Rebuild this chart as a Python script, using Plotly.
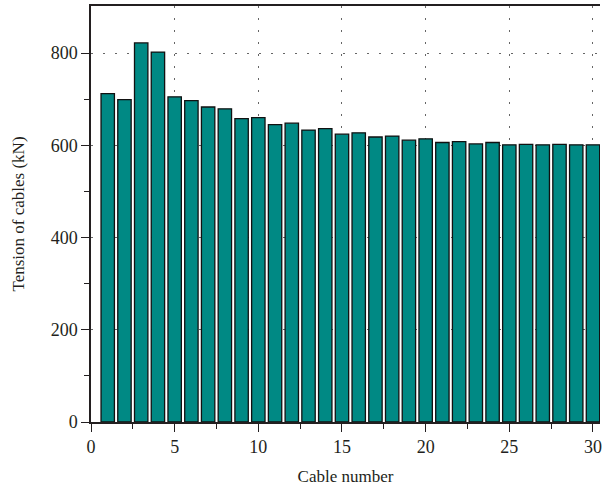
import plotly.graph_objects as go

cables = list(range(1, 31))
tension = [712, 699, 822, 802, 705, 697, 683, 679, 658, 660,
           645, 648, 633, 636, 624, 627, 618, 620, 611, 614,
           606, 608, 603, 606, 601, 602, 601, 602, 601, 601]

x_ticks = [0, 5, 10, 15, 20, 25, 30]
y_ticks = [0, 200, 400, 600, 800]

font_fam = "Liberation Serif, Times New Roman, serif"
ink = "#231f20"

fig = go.Figure()
fig.add_trace(go.Bar(
    x=cables, y=tension, width=0.8,
    marker=dict(color="#008984", line=dict(color="#111111", width=1.3)),
))

xr = [0, 30.42]
fig.update_layout(
    width=602, height=491,
    margin=dict(l=91, r=0, t=6, b=69),
    paper_bgcolor="white", plot_bgcolor="white",
    showlegend=False,
    font=dict(family=font_fam, size=17, color=ink),
    xaxis=dict(
        range=xr, tickvals=x_ticks, ticks="outside", ticklen=8, tickwidth=1.3,
        tickcolor=ink, showline=True, linecolor=ink, linewidth=1.5, mirror=True,
        showgrid=True, gridcolor="#666666", griddash="2px,10px", gridwidth=1,
        zeroline=False, ticklabeloverflow="allow",
        minor=dict(tickvals=[2.5, 7.5, 12.5, 17.5, 22.5, 27.5], ticks="outside",
                   ticklen=5, tickcolor=ink, tickwidth=1.2, showgrid=False),
        title=dict(text="Cable number", font=dict(size=17), standoff=14),
        tickfont=dict(size=18),
    ),
    yaxis=dict(
        range=[0, 902], tickvals=y_ticks, ticks="outside", ticklen=8, tickwidth=1.3,
        tickcolor=ink, showline=True, linecolor=ink, linewidth=1.5, mirror=False,
        showgrid=True, gridcolor="#666666", griddash="2px,10px", gridwidth=1,
        zeroline=False,
        minor=dict(tickvals=[100, 300, 500, 700], ticks="outside",
                   ticklen=5, tickcolor=ink, tickwidth=1.2, showgrid=False),
        title=dict(text="Tension of cables (kN)", font=dict(size=17), standoff=22),
        tickfont=dict(size=18),
    ),
    xaxis2=dict(
        range=xr, overlaying="x", side="top", anchor="y",
        tickvals=x_ticks, ticks="inside", ticklen=8, tickwidth=1.3, tickcolor=ink,
        showticklabels=False, showgrid=False, zeroline=False, showline=False,
        minor=dict(tickvals=[2.5, 7.5, 12.5, 17.5, 22.5, 27.5], ticks="inside",
                   ticklen=5, tickcolor=ink, tickwidth=1.2),
    ),
)

fig.write_html("out.html")
